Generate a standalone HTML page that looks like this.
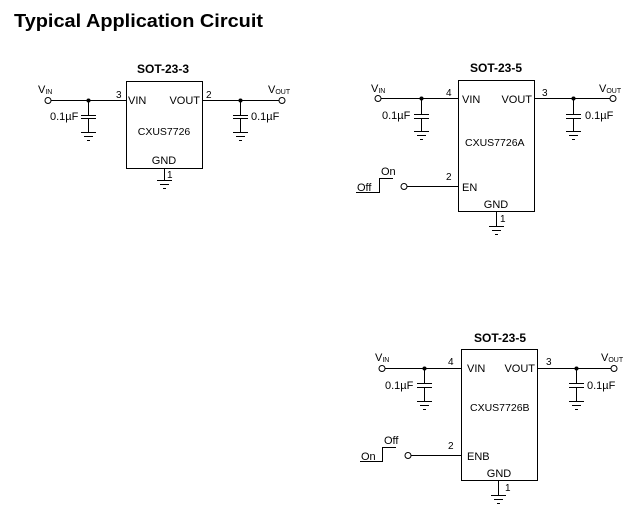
<!DOCTYPE html>
<html><head><meta charset="utf-8"><style>
html,body{margin:0;padding:0;background:#fff;}
svg{display:block;}
text{font-family:"Liberation Sans",Arial,sans-serif;fill:#000;}
</style></head><body>
<svg width="633" height="513" viewBox="0 0 633 513" xmlns="http://www.w3.org/2000/svg" stroke-linecap="butt">
<text x="14" y="27" font-family="DejaVu Sans" font-weight="bold" font-size="18.5" textLength="249" lengthAdjust="spacingAndGlyphs">Typical Application Circuit</text>

<!-- Diagram 1 -->
<g stroke="#000" stroke-width="1" fill="none">
<rect x="126.5" y="81.5" width="76" height="87"/>
<line x1="51" y1="100.5" x2="126" y2="100.5"/>
<line x1="203" y1="100.5" x2="279" y2="100.5"/>
<circle cx="48" cy="100.5" r="3"/>
<circle cx="282" cy="100.5" r="3"/>
<line x1="88.5" y1="100" x2="88.5" y2="115"/>
<line x1="81" y1="115.5" x2="96" y2="115.5"/>
<line x1="81" y1="118.5" x2="96" y2="118.5"/>
<line x1="88.5" y1="119" x2="88.5" y2="132"/>
<line x1="81" y1="132.5" x2="96" y2="132.5"/><line x1="84" y1="136.5" x2="93" y2="136.5"/><line x1="87" y1="140.5" x2="90" y2="140.5"/>
<line x1="240.5" y1="100" x2="240.5" y2="115"/>
<line x1="233" y1="115.5" x2="248" y2="115.5"/>
<line x1="233" y1="118.5" x2="248" y2="118.5"/>
<line x1="240.5" y1="119" x2="240.5" y2="132"/>
<line x1="233" y1="132.5" x2="248" y2="132.5"/><line x1="236" y1="136.5" x2="245" y2="136.5"/><line x1="239" y1="140.5" x2="242" y2="140.5"/>
<line x1="164.5" y1="169" x2="164.5" y2="180"/>
<line x1="157" y1="180.5" x2="172" y2="180.5"/><line x1="160" y1="184.5" x2="169" y2="184.5"/><line x1="163" y1="188.5" x2="166" y2="188.5"/>
</g>
<circle cx="88.5" cy="100.5" r="2" fill="#000"/><circle cx="240.5" cy="100.5" r="2" fill="#000"/>
<g font-size="11">
<text x="163" y="73" text-anchor="middle" font-weight="bold" font-size="12">SOT-23-3</text>
<text x="38" y="93">V<tspan font-size="7" dy="1">IN</tspan></text>
<text x="268" y="93">V<tspan font-size="7" dy="1">OUT</tspan></text>
<text x="50" y="120">0.1µF</text>
<text x="251" y="120">0.1µF</text>
<text x="116" y="98" font-size="10">3</text>
<text x="206" y="98" font-size="10">2</text>
<text x="128" y="104">VIN</text>
<text x="200" y="104" text-anchor="end">VOUT</text>
<text x="164" y="135" text-anchor="middle" font-size="10.5">CXUS7726</text>
<text x="164" y="164" text-anchor="middle">GND</text>
<text x="167" y="178" font-size="10">1</text>
</g>

<!-- Diagram 2 -->
<g stroke="#000" stroke-width="1" fill="none">
<rect x="458.5" y="80.5" width="76" height="131"/>
<line x1="381" y1="98.5" x2="458" y2="98.5"/>
<line x1="535" y1="98.5" x2="610" y2="98.5"/>
<circle cx="378" cy="98.5" r="3"/>
<circle cx="613" cy="98.5" r="3"/>
<line x1="421.5" y1="98" x2="421.5" y2="114"/>
<line x1="414" y1="114.5" x2="429" y2="114.5"/>
<line x1="414" y1="118.5" x2="429" y2="118.5"/>
<line x1="421.5" y1="119" x2="421.5" y2="131"/>
<line x1="414" y1="131.5" x2="429" y2="131.5"/><line x1="417" y1="135.5" x2="426" y2="135.5"/><line x1="420" y1="139.5" x2="423" y2="139.5"/>
<line x1="573.5" y1="98" x2="573.5" y2="114"/>
<line x1="566" y1="114.5" x2="581" y2="114.5"/>
<line x1="566" y1="118.5" x2="581" y2="118.5"/>
<line x1="573.5" y1="119" x2="573.5" y2="131"/>
<line x1="566" y1="131.5" x2="581" y2="131.5"/><line x1="569" y1="135.5" x2="578" y2="135.5"/><line x1="572" y1="139.5" x2="575" y2="139.5"/>
<line x1="407" y1="186.5" x2="458" y2="186.5"/>
<circle cx="404" cy="186.5" r="3"/>
<polyline points="356,192.5 379.5,192.5 379.5,178.5 393,178.5"/>
<line x1="496.5" y1="212" x2="496.5" y2="226"/>
<line x1="489" y1="226.5" x2="504" y2="226.5"/><line x1="492" y1="230.5" x2="501" y2="230.5"/><line x1="495" y1="234.5" x2="498" y2="234.5"/>
</g>
<circle cx="421.5" cy="98.5" r="2" fill="#000"/><circle cx="573.5" cy="98.5" r="2" fill="#000"/>
<g font-size="11">
<text x="496" y="72" text-anchor="middle" font-weight="bold" font-size="12">SOT-23-5</text>
<text x="371" y="92">V<tspan font-size="7" dy="1">IN</tspan></text>
<text x="599" y="92">V<tspan font-size="7" dy="1">OUT</tspan></text>
<text x="382" y="119">0.1µF</text>
<text x="585" y="119">0.1µF</text>
<text x="446" y="96" font-size="10">4</text>
<text x="542" y="96" font-size="10">3</text>
<text x="462" y="103">VIN</text>
<text x="532" y="103" text-anchor="end">VOUT</text>
<text x="465" y="146" font-size="10.5">CXUS7726A</text>
<text x="446" y="180" font-size="10">2</text>
<text x="462" y="191">EN</text>
<text x="496" y="208" text-anchor="middle">GND</text>
<text x="500" y="222" font-size="10">1</text>
<text x="381" y="175">On</text>
<text x="357" y="191">Off</text>
</g>

<!-- Diagram 3 -->
<g stroke="#000" stroke-width="1" fill="none">
<rect x="461.5" y="349.5" width="76" height="131"/>
<line x1="385" y1="368.5" x2="461" y2="368.5"/>
<line x1="538" y1="368.5" x2="611" y2="368.5"/>
<circle cx="382" cy="368.5" r="3"/>
<circle cx="614" cy="368.5" r="3"/>
<line x1="424.5" y1="368" x2="424.5" y2="383"/>
<line x1="417" y1="383.5" x2="432" y2="383.5"/>
<line x1="417" y1="387.5" x2="432" y2="387.5"/>
<line x1="424.5" y1="388" x2="424.5" y2="401"/>
<line x1="417" y1="401.5" x2="432" y2="401.5"/><line x1="420" y1="405.5" x2="429" y2="405.5"/><line x1="423" y1="409.5" x2="426" y2="409.5"/>
<line x1="576.5" y1="368" x2="576.5" y2="383"/>
<line x1="569" y1="383.5" x2="584" y2="383.5"/>
<line x1="569" y1="387.5" x2="584" y2="387.5"/>
<line x1="576.5" y1="388" x2="576.5" y2="401"/>
<line x1="569" y1="401.5" x2="584" y2="401.5"/><line x1="572" y1="405.5" x2="581" y2="405.5"/><line x1="575" y1="409.5" x2="578" y2="409.5"/>
<line x1="411" y1="455.5" x2="461" y2="455.5"/>
<circle cx="408" cy="455.5" r="3"/>
<polyline points="360,461.5 382.5,461.5 382.5,447.5 396,447.5"/>
<line x1="498.5" y1="481" x2="498.5" y2="495"/>
<line x1="491" y1="495.5" x2="506" y2="495.5"/><line x1="494" y1="499.5" x2="503" y2="499.5"/><line x1="497" y1="503.5" x2="500" y2="503.5"/>
</g>
<circle cx="424.5" cy="368.5" r="2" fill="#000"/><circle cx="576.5" cy="368.5" r="2" fill="#000"/>
<g font-size="11">
<text x="500" y="342" text-anchor="middle" font-weight="bold" font-size="12">SOT-23-5</text>
<text x="375" y="361">V<tspan font-size="7" dy="1">IN</tspan></text>
<text x="601" y="361">V<tspan font-size="7" dy="1">OUT</tspan></text>
<text x="385" y="389">0.1µF</text>
<text x="587" y="389">0.1µF</text>
<text x="448" y="365" font-size="10">4</text>
<text x="546" y="365" font-size="10">3</text>
<text x="467" y="372">VIN</text>
<text x="535" y="372" text-anchor="end">VOUT</text>
<text x="470" y="411" font-size="10.5">CXUS7726B</text>
<text x="448" y="449" font-size="10">2</text>
<text x="467" y="460">ENB</text>
<text x="499" y="477" text-anchor="middle">GND</text>
<text x="505" y="491" font-size="10">1</text>
<text x="384" y="444">Off</text>
<text x="361" y="460">On</text>
</g>
</svg>
</body></html>
